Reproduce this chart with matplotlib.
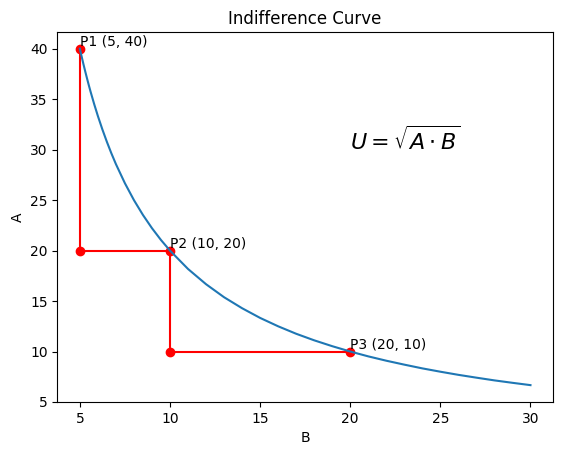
import matplotlib
matplotlib.use("Agg")
import matplotlib.pyplot as plt

# Indifference curve values
curve_b = [5, 5.1, 5.2, 5.3, 5.4, 5.5, 5.6, 5.8, 6, 6.25, 6.5, 6.75, 7, 7.5, 8, 8.5, 9, 9.5,
           10, 11, 12, 13, 14, 15, 16, 17, 18, 19, 20, 21, 22, 23, 24, 25, 26, 27, 28, 29, 30]
curve_a = [40.0, 39.22, 38.46, 37.74, 37.04, 36.36, 35.71, 34.48, 33.33, 32.0, 30.77, 29.63,
           28.57, 26.67, 25.0, 23.53, 22.22, 21.05, 20.0, 18.18, 16.67, 15.38, 14.29, 13.33,
           12.5, 11.76, 11.11, 10.53, 10.0, 9.52, 9.09, 8.70, 8.33, 8.0, 7.69, 7.41, 7.14,
           6.90, 6.67]

# Step path between the points
path_b = [5, 5, 10, 10, 20]
path_a = [40, 20, 20, 10, 10]

point_labels = ["P1 (5, 40)", "P2 (10, 20)", "P3 (20, 10)"]
point_b = [5, 10, 20]
point_a = [40, 20, 10]

fig = plt.figure(figsize=(5.62, 4.55), dpi=100)
ax = fig.add_axes([0.102, 0.1165, 0.882, 0.8135])

ax.plot(path_b, path_a, 'ro-')
ax.plot(curve_b, curve_a, color='#1f77b4')

for lab, b, a in zip(point_labels, point_b, point_a):
    ax.text(b, a, lab, va='bottom')

ax.text(20, 30, r'$U = \sqrt{A \cdot B}$', fontsize=16)

ax.set_title("Indifference Curve")
ax.set_xlabel("B")
ax.set_ylabel("A")
ax.set_xticks([5, 10, 15, 20, 25, 30])
ax.set_yticks([5, 10, 15, 20, 25, 30, 35, 40])
ax.set_xlim(3.75, 31.25)
ax.set_ylim(5, 41.67)

fig.savefig("out.png", dpi=100)
